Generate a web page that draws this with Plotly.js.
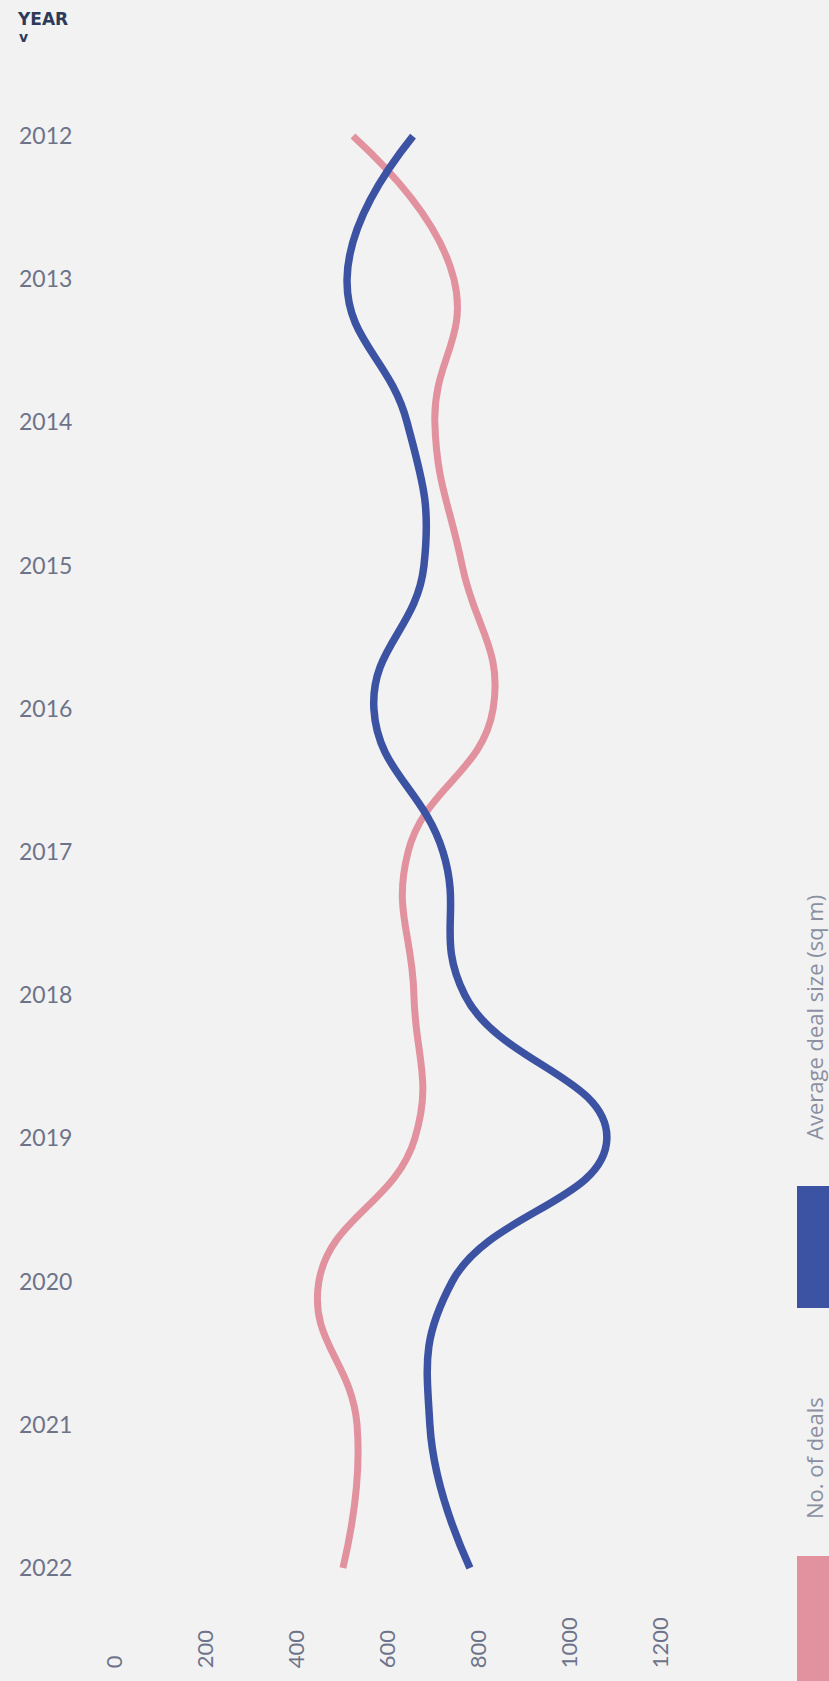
<!DOCTYPE html>
<html>
<head>
<meta charset="utf-8">
<script src="https://cdn.plot.ly/plotly-3.0.1.min.js"></script>
<style>
  html, body { margin: 0; padding: 0; background: #f2f2f2; }
  #chart { width: 829px; height: 1681px; }
</style>
</head>
<body>
<div id="chart"></div>
<script>
// ---- data ----
const years = [2012, 2013, 2014, 2015, 2016, 2017, 2018, 2019, 2020, 2021, 2022];
const avgDealSize = [655, 510, 642, 679, 569, 721, 769, 1081, 741, 692, 780]; // sq m
const numDeals    = [523, 745, 703, 763, 831, 644, 657, 659, 448, 532, 501];
const xTickValues = [0, 200, 400, 600, 800, 1000, 1200];
const seriesNames = ["Average deal size (sq m)", "No. of deals"];

const W = 829, H = 1681;
const blue = "#3c52a2";
const pink = "#e2919e";
const tickColor = "#6d7389";
const px = v => v / W;            // pixel -> paper x
const py = v => 1 - v / H;        // pixel -> paper y

const traces = [
  {
    x: numDeals, y: years, type: "scatter", mode: "lines",
    name: seriesNames[1],
    line: { color: pink, width: 7, shape: "spline", smoothing: 1.3 },
    hoverinfo: "x+y"
  },
  {
    x: avgDealSize, y: years, type: "scatter", mode: "lines",
    name: seriesNames[0],
    line: { color: blue, width: 7.5, shape: "spline", smoothing: 1.3 },
    hoverinfo: "x+y"
  }
];

const layout = {
  width: W, height: H,
  paper_bgcolor: "#f2f2f2",
  plot_bgcolor: "#f2f2f2",
  margin: { l: 0, r: 0, t: 0, b: 0 },
  showlegend: false,
  font: { family: "Lato, 'Open Sans', sans-serif", color: tickColor },
  xaxis: {
    range: [-252.7, 1569.2],
    tickvals: xTickValues,
    ticktext: xTickValues.map(String),
    tickangle: -90,
    ticklabelposition: "inside",
    ticklabelstandoff: 2,
    ticks: "",
    showgrid: false, zeroline: false, showline: false,
    tickfont: { size: 22, color: tickColor, family: "Lato, sans-serif" },
    fixedrange: true
  },
  yaxis: {
    range: [2022.789, 2011.050],
    tickvals: years,
    ticktext: years.map(String),
    ticklabelposition: "inside",
    ticklabelstandoff: 16,
    ticks: "",
    showgrid: false, zeroline: false, showline: false,
    tickfont: { size: 23, color: tickColor, family: "Lato, sans-serif" },
    fixedrange: true
  },
  shapes: [
    { type: "rect", xref: "paper", yref: "paper",
      x0: px(797), x1: px(829), y0: py(1308), y1: py(1186),
      fillcolor: blue, line: { width: 0 } },
    { type: "rect", xref: "paper", yref: "paper",
      x0: px(797), x1: px(829), y0: py(1681), y1: py(1556),
      fillcolor: pink, line: { width: 0 } }
  ],
  annotations: [
    { xref: "paper", yref: "paper", x: px(15), y: py(19),
      xanchor: "left", yanchor: "middle", showarrow: false,
      text: "<b>YEAR</b>",
      font: { family: "DejaVu Sans", size: 17, color: "#2e3a59" } },
    { xref: "paper", yref: "paper", x: px(23.5), y: py(37),
      xanchor: "center", yanchor: "middle", showarrow: false,
      text: "<b>v</b>",
      font: { family: "DejaVu Sans", size: 14, color: "#2e3a59" } },
    { xref: "paper", yref: "paper", x: px(814), y: py(1018),
      xanchor: "center", yanchor: "middle", showarrow: false,
      textangle: -90,
      text: seriesNames[0],
      font: { family: "'Open Sans', sans-serif", size: 22, color: "#8a8fa2" } },
    { xref: "paper", yref: "paper", x: px(814), y: py(1458),
      xanchor: "center", yanchor: "middle", showarrow: false,
      textangle: -90,
      text: seriesNames[1],
      font: { family: "'Open Sans', sans-serif", size: 22, color: "#8a8fa2" } }
  ]
};

Plotly.newPlot("chart", traces, layout, { displayModeBar: false, staticPlot: true });
</script>
</body>
</html>
